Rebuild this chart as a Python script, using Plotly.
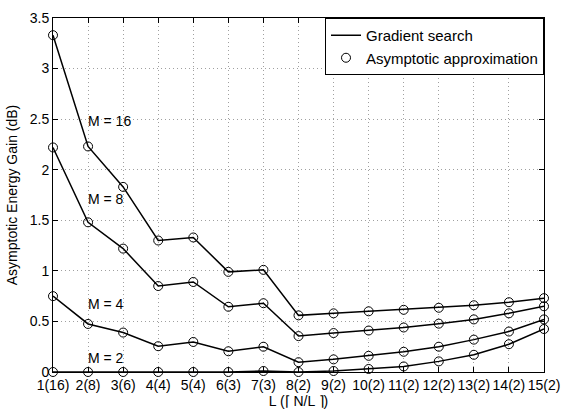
import plotly.graph_objects as go

x_vals = list(range(1, 16))
tick_labels = ["1(16)", "2(8)", "3(6)", "4(4)", "5(4)", "6(3)", "7(3)", "8(2)",
               "9(2)", "10(2)", "11(2)", "12(2)", "13(2)", "14(2)", "15(2)"]

m16 = [3.33, 2.23, 1.83, 1.30, 1.33, 0.99, 1.01, 0.56, 0.58, 0.60, 0.615, 0.635, 0.66, 0.69, 0.73]
m8 = [2.22, 1.48, 1.22, 0.85, 0.89, 0.645, 0.68, 0.355, 0.385, 0.41, 0.44, 0.478, 0.52, 0.58, 0.65]
m4 = [0.75, 0.475, 0.39, 0.255, 0.297, 0.205, 0.25, 0.097, 0.125, 0.16, 0.2, 0.25, 0.32, 0.40, 0.52]
m2 = [0.0, 0.0, 0.0, 0.0, 0.0, 0.0, 0.01, 0.0, 0.01, 0.03, 0.055, 0.105, 0.17, 0.275, 0.425]

series = [("M = 16", m16), ("M = 8", m8), ("M = 4", m4), ("M = 2", m2)]
label_y = [2.48, 1.71, 0.675, 0.14]

fig = go.Figure()
for i, (name, ys) in enumerate(series):
    fig.add_trace(go.Scatter(x=x_vals, y=ys, mode="lines",
                             line=dict(color="black", width=1.5),
                             name="Gradient search", showlegend=(i == 0),
                             legendgroup="g"))
for i, (name, ys) in enumerate(series):
    fig.add_trace(go.Scatter(x=x_vals, y=ys, mode="markers",
                             marker=dict(symbol="circle-open", size=9,
                                         color="black", line=dict(width=1)),
                             name="Asymptotic approximation", showlegend=(i == 0),
                             legendgroup="a", cliponaxis=False))

for (name, ys), ly in zip(series, label_y):
    fig.add_annotation(x=1.95, y=ly, text=name, showarrow=False,
                       xanchor="left", yanchor="middle",
                       font=dict(size=14, color="black"))

axis_common = dict(showline=True, linecolor="black", linewidth=1, mirror="ticks",
                   ticks="inside", ticklen=5, tickcolor="black",
                   showgrid=True, gridcolor="#a0a0a0", griddash="1px,3px", gridwidth=1,
                   zeroline=False, tickfont=dict(size=14, color="black"))

fig.update_layout(
    width=570, height=414,
    margin=dict(l=53, r=19, t=10, b=42),
    paper_bgcolor="white", plot_bgcolor="white",
    font=dict(family="Liberation Sans, Arial, sans-serif", size=14, color="black"),
    xaxis=dict(range=[1, 15], tickmode="array", tickvals=x_vals, ticktext=tick_labels,
               title=dict(text="L (⌈ N/L ⌉)", standoff=0, font=dict(size=14)),
               **axis_common),
    yaxis=dict(range=[0, 3.5], tickmode="array",
               tickvals=[0, 0.5, 1, 1.5, 2, 2.5, 3, 3.5],
               ticktext=["0", "0.5", "1", "1.5", "2", "2.5", "3", "3.5"],
               title=dict(text="Asymptotic Energy Gain (dB)", standoff=8, font=dict(size=14)),
               **axis_common),
    legend=dict(x=1, y=1, xanchor="right", yanchor="top",
                bordercolor="black", borderwidth=1, bgcolor="white",
                font=dict(size=15), tracegroupgap=0, itemwidth=30),
    showlegend=True,
)

fig.write_html("out.html")
